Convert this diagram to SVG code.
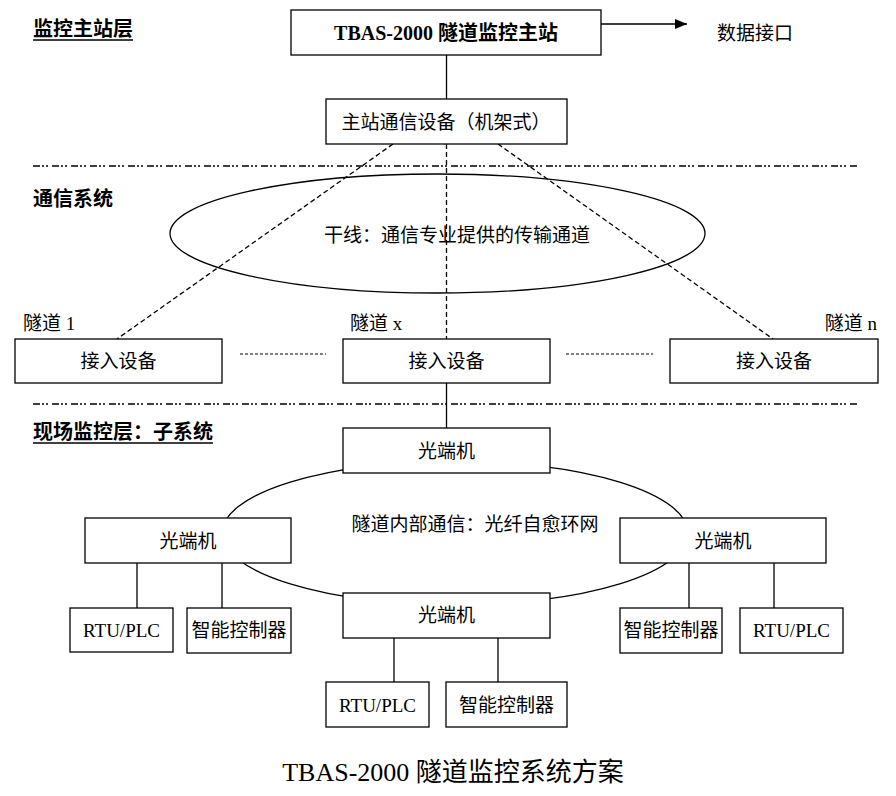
<svg xmlns="http://www.w3.org/2000/svg" width="896" height="796" viewBox="0 0 896 796">
<defs>
<style>
text{font-family:"Liberation Serif","Noto Sans CJK SC",serif;font-size:19px;fill:#000;dominant-baseline:central}
.c{text-anchor:middle}
.b{font-weight:bold}
.lbl{font-weight:bold;font-size:20px}
.hd{font-weight:bold;font-size:20px}
.ttl{font-size:26px}
.box{fill:#fff;stroke:#000;stroke-width:1.3}
.ln{stroke:#000;stroke-width:1.3;fill:none}
.dash{stroke:#000;stroke-width:1.3;fill:none;stroke-dasharray:5 3}
.dot{stroke:#000;stroke-width:1;fill:none;stroke-dasharray:3 2}
.sep{stroke:#000;stroke-width:1.3;fill:none;stroke-dasharray:7 2 2 2 2 4}
</style>
<marker id="arr" viewBox="0 0 12 10" refX="12" refY="5" markerWidth="12" markerHeight="10" markerUnits="userSpaceOnUse" orient="auto">
<path d="M0,0 L12,5 L0,10 z" fill="#000"/>
</marker>
</defs>
<rect width="896" height="796" fill="#fff"/>

<g id="layer-labels">
<text x="33" y="29" class="lbl">监控主站层</text>
<line class="ln" x1="33" y1="40" x2="133" y2="40"/>
<text x="33" y="199" class="lbl">通信系统</text>
<text x="33" y="432" class="lbl">现场监控层：子系统</text>
<line class="ln" x1="33" y1="443" x2="213" y2="443"/>
</g>

<g id="separators">
<line class="sep" x1="33" y1="166" x2="858" y2="166"/>
<line class="sep" x1="33" y1="404" x2="858" y2="404"/>
</g>

<g id="connectors">
<line class="ln" x1="601" y1="24" x2="687" y2="24" marker-end="url(#arr)"/>
<line class="ln" x1="446.5" y1="55" x2="446.5" y2="99"/>
<line class="dash" x1="393" y1="144" x2="117" y2="339"/>
<line class="dash" x1="498" y1="144" x2="773" y2="339"/>
<line class="dash" x1="446.5" y1="144" x2="446.5" y2="339"/>
<line class="dot" x1="240" y1="354" x2="326" y2="354"/>
<line class="dot" x1="566" y1="354" x2="653" y2="354"/>
<line class="ln" x1="446.5" y1="383" x2="446.5" y2="428"/>
<line class="ln" x1="137" y1="563" x2="137" y2="608"/>
<line class="ln" x1="222" y1="563" x2="222" y2="608"/>
<line class="ln" x1="689" y1="563" x2="689" y2="608"/>
<line class="ln" x1="774" y1="563" x2="774" y2="608"/>
<line class="ln" x1="394" y1="638" x2="394" y2="682"/>
<line class="ln" x1="498" y1="638" x2="498" y2="682"/>
</g>

<g id="trunk">
<ellipse class="ln" cx="437.5" cy="233.5" rx="267.5" ry="59.5"/>
<text x="457" y="235" class="c">干线：通信专业提供的传输通道</text>
</g>

<g id="ring">
<ellipse class="ln" cx="455" cy="533" rx="233" ry="72"/>
<text x="475" y="524" class="c">隧道内部通信：光纤自愈环网</text>
</g>

<g id="master">
<rect class="box" x="291" y="10" width="310" height="45"/>
<text x="446" y="33" class="c hd">TBAS-2000 隧道监控主站</text>
</g>
<g id="data-if">
<text x="755" y="33" class="c">数据接口</text>
</g>
<g id="master-comm">
<rect class="box" x="326" y="99" width="241" height="45"/>
<text x="446" y="122" class="c">主站通信设备（机架式）</text>
</g>

<g id="tunnel-1">
<text x="23" y="323">隧道 1</text>
<rect class="box" x="15" y="339" width="207" height="44"/>
<text x="118.5" y="361" class="c">接入设备</text>
</g>
<g id="tunnel-x">
<text x="350" y="323">隧道 x</text>
<rect class="box" x="343" y="339" width="207" height="44"/>
<text x="446.5" y="361" class="c">接入设备</text>
</g>
<g id="tunnel-n">
<text x="877" y="323" text-anchor="end">隧道 n</text>
<rect class="box" x="670" y="339" width="208" height="44"/>
<text x="774" y="361" class="c">接入设备</text>
</g>

<g id="ot-top">
<rect class="box" x="343" y="428" width="207" height="45"/>
<text x="446.5" y="451" class="c">光端机</text>
</g>
<g id="ot-left">
<rect class="box" x="85" y="518" width="206" height="45"/>
<text x="188" y="541" class="c">光端机</text>
</g>
<g id="ot-right">
<rect class="box" x="620" y="518" width="206" height="45"/>
<text x="723" y="541" class="c">光端机</text>
</g>
<g id="ot-bottom">
<rect class="box" x="343" y="593" width="207" height="45"/>
<text x="446.5" y="615" class="c">光端机</text>
</g>

<g id="rtu-left">
<rect class="box" x="70" y="608" width="103" height="44"/>
<text x="121.5" y="630" class="c">RTU/PLC</text>
</g>
<g id="ctrl-left">
<rect class="box" x="187" y="608" width="104" height="45"/>
<text x="239" y="630" class="c">智能控制器</text>
</g>
<g id="ctrl-right">
<rect class="box" x="620" y="608" width="102" height="45"/>
<text x="671" y="630" class="c">智能控制器</text>
</g>
<g id="rtu-right">
<rect class="box" x="740" y="608" width="103" height="45"/>
<text x="791.5" y="630" class="c">RTU/PLC</text>
</g>
<g id="rtu-bottom">
<rect class="box" x="326" y="682" width="103" height="45"/>
<text x="377.5" y="705" class="c">RTU/PLC</text>
</g>
<g id="ctrl-bottom">
<rect class="box" x="446" y="682" width="121" height="45"/>
<text x="506.5" y="705" class="c">智能控制器</text>
</g>

<g id="title">
<text x="453" y="772" class="c ttl">TBAS-2000 隧道监控系统方案</text>
</g>
</svg>
